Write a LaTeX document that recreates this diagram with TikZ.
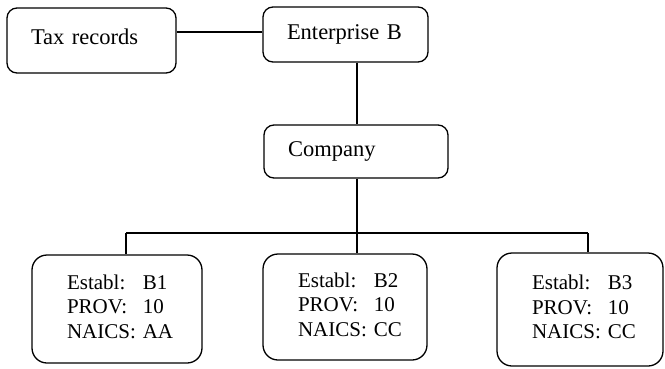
\documentclass[tikz,border=0pt]{standalone}
\usepackage{fontspec}
\setmainfont{Liberation Serif}
\usepackage{tikz}
\usetikzlibrary{positioning}

\tikzset{
  unitbox/.style={draw, line width=1.3pt, rounded corners=10pt, inner xsep=24pt, inner ysep=0pt, align=left, font=\fontsize{22.5}{26}\selectfont},
  estabbox/.style={draw, line width=1.3pt, rounded corners=15pt, inner xsep=35pt, inner ysep=0pt, align=left},
  link/.style={line width=1.3pt}
}

\begin{document}
\begin{tikzpicture}[x=1pt, y=-1pt, font=\fontsize{21}{24.5}\selectfont]
                \useasboundingbox (0,0) rectangle (665,368);
                % top row
                \node[unitbox, text width=121pt, minimum height=65pt, text depth=8pt] (tax) at (91.5,40.5) {Tax records};
                \node[unitbox, text width=117pt, minimum height=55pt] (ent) at (345.5,34.5) {Enterprise B};
                \node[unitbox, text width=136pt, minimum height=53pt] (comp) at (356,151.5) {Company};
                % establishments
                \node[estabbox, text width=100pt, minimum height=108pt] (b1) at (117,309) {\begin{tabular}{@{}l@{\ }l@{}}Establ: & B1\\ PROV: & 10\\ NAICS: & AA\end{tabular}};
                \node[estabbox, text width=94pt, minimum height=106pt] (b2) at (345,307) {\begin{tabular}{@{}l@{\ }l@{}}Establ: & B2\\ PROV: & 10\\ NAICS: & CC\end{tabular}};
                \node[estabbox, text width=96pt, minimum height=113pt] (b3) at (580,309.5) {\begin{tabular}{@{}l@{\ }l@{}}Establ: & B3\\ PROV: & 10\\ NAICS: & CC\end{tabular}};
                % links
                \coordinate (j1) at (126,233);
                \coordinate (j2) at (357,233);
                \coordinate (j3) at (588,233);
                \draw[link] (ent.west |- 0,32) -- (tax.east |- 0,32);
                \draw[link] (ent.south -| j2) -- (comp.north -| j2);
                \draw[link] (comp.south -| j2) -- (j2);
                \draw[link] (j1) -- (j3);
                \foreach \j/\b in {j1/b1, j2/b2, j3/b3}{\draw[link] (\j) -- (\j |- \b.north);}
            \end{tikzpicture}
\end{document}
